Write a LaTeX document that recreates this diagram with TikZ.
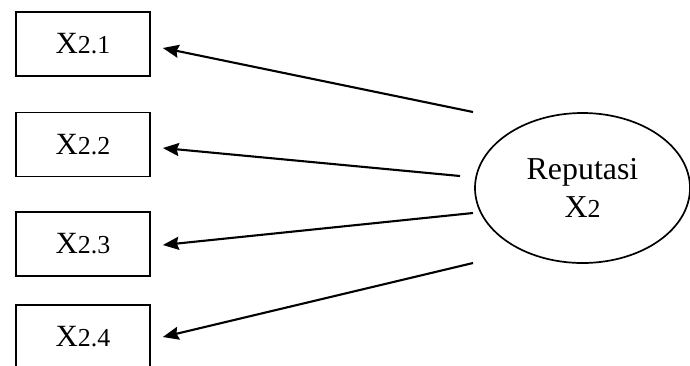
\documentclass[tikz,border=0pt]{standalone}
\usepackage{fontspec}
\setmainfont{Liberation Serif}
\usetikzlibrary{arrows.meta,shapes.geometric}
\tikzset{
  ind/.style={draw, line width=1.7bp, minimum width=134bp, minimum height=64bp, inner sep=0pt,
    font=\fontsize{31}{31}\selectfont},
  lat/.style={draw, ellipse, line width=1.7bp, minimum width=215bp, minimum height=150bp, inner sep=0pt,
    align=center, font=\fontsize{32}{39}\selectfont},
  load/.style={line width=2.1bp, -{Stealth[length=16bp,width=13bp,inset=2bp]}}
}
\newcommand{\smalld}[1]{{\fontsize{26}{26}\selectfont #1}}
\begin{document}
\begin{tikzpicture}[x=1bp,y=-1bp]
\useasboundingbox (0,0) rectangle (690,365);
\node[ind] (b1) at (83,44) {X\smalld{2.1}};
\node[ind] (b2) at (83,144.5) {X\smalld{2.2}};
\node[ind] (b3) at (83,244) {X\smalld{2.3}};
\node[ind] (b4) at (83,337) {X\smalld{2.4}};
\node[lat] (e) at (582.5,188) {Reputasi\\X\smalld{2}};
\coordinate (s1) at (473,112);
\coordinate (s2) at (460,176);
\coordinate (s3) at (473,213);
\coordinate (s4) at (473,263);
\coordinate (t1) at ([xshift=12bp,yshift=-4bp]b1.east);
\coordinate (t2) at ([xshift=12bp,yshift=-3.5bp]b2.east);
\coordinate (t3) at ([xshift=12bp,yshift=-1bp]b3.east);
\coordinate (t4) at ([xshift=12bp,yshift=0bp]b4.east);
\draw[load] (s1) -- (t1);
\draw[load] (s2) -- (t2);
\draw[load] (s3) -- (t3);
\draw[load] (s4) -- (t4);
\end{tikzpicture}
\end{document}
